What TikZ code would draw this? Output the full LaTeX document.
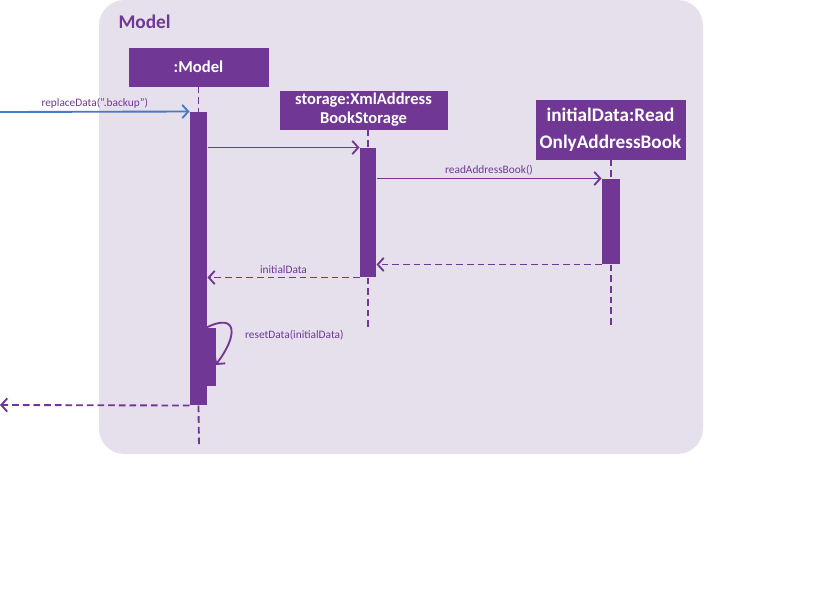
\documentclass[tikz,border=0pt]{standalone}
\usepackage{fontspec}
\setmainfont{Carlito}
\usepackage{tikz}
\usetikzlibrary{arrows.meta}
\usetikzlibrary{calc}
\definecolor{umlpurple}{RGB}{112,56,148}
\definecolor{framebg}{RGB}{230,224,237}
\definecolor{callblue}{RGB}{70,122,196}
\tikzset{every picture/.style={line width=0.75pt}}
\tikzset{
  objbox/.style={fill=umlpurple, draw=umlpurple, text=white, font=\bfseries, align=center, inner sep=0pt},
  actbar/.style={fill=umlpurple, draw=none, inner sep=0pt, minimum width=12.75pt},
  lifeline/.style={draw=umlpurple, line width=1.4pt, dash pattern=on 5pt off 3pt},
  msg/.style={draw=umlpurple, line width=1.4pt, -{Straight Barb[length=4.5pt,width=10pt,line width=1.4pt]}},
  ret/.style={msg, dash pattern=on 5pt off 3pt},
  msglabel/.style={font=\fontsize{8.5}{10}\selectfont, text=umlpurple, inner sep=2pt}
}

\begin{document}
\begin{tikzpicture}[x=0.75pt,y=0.75pt,yscale=-1,xscale=1]
\useasboundingbox (0,0) rectangle (826,594);

%Shape: Rounded Rectangle [id:frame]
\fill [framebg, rounded corners=19pt] (99,0) rectangle (703,454);
% Text Node
\node [anchor=west, inner sep=0pt, text=umlpurple, font=\fontsize{14.5}{17}\selectfont\bfseries] (title) at (118,22) {Model};

%Objects
\node [objbox, minimum width=104.25pt, minimum height=28.5pt, font=\fontsize{12.5}{14.5}\selectfont\bfseries] (model) at (198.5,67) {:Model};
\node [objbox, minimum width=125.25pt, minimum height=28.5pt, font=\fontsize{12.4}{14.2}\selectfont\bfseries] (storage) at (363.5,110) {storage:XmlAddress\\BookStorage};
\node [objbox, minimum width=111.75pt, minimum height=44.25pt, font=\fontsize{14.4}{20}\selectfont\bfseries] (initial) at (610.5,129.5) {initialData:Read\\OnlyAddressBook};

%Activation bars
\node [actbar, minimum height=219.75pt] (modelBar) at (198.5,258.5) {};
\node [actbar, minimum width=12pt, minimum height=96.75pt] (storageBar) at (368,212.5) {};
\node [actbar, minimum width=13.5pt, minimum height=63.75pt] (initialBar) at (611,221.5) {};
\node [actbar, minimum width=6.75pt, minimum height=43.5pt] (resetBar) at (211.5,357) {};

%Lifeline ends
\coordinate (modelEnd) at (199,447);
\coordinate (storageEnd) at (368,328);
\coordinate (initialEnd) at (611,328);
\coordinate (caller) at (0,112);
\coordinate (back) at (0,405);

%Lifelines
\draw [lifeline] (model.south -| modelBar.north) -- (modelBar.north);
\draw [lifeline] (modelBar.south) -- (modelEnd);
\draw [lifeline] (storage.south -| storageBar.north) -- (storageBar.north);
\draw [lifeline] (storageBar.south) -- (storageEnd);
\draw [lifeline] (initial.south -| initialBar.north) -- (initialBar.north);
\draw [lifeline] (initialBar.south) -- (initialEnd);

%Messages
\draw [msg, draw=callblue] (caller) -- (modelBar.north west) node [midway, above, msglabel] {replaceData(”.backup”)};
\draw [msg] (modelBar.east |- storageBar.north) -- (storageBar.north west);
\draw [msg] (storageBar.east |- initialBar.north) -- (initialBar.north west) node [midway, above, msglabel] {readAddressBook()};
\draw [ret] (initialBar.south west) -- (storageBar.east |- initialBar.south);
\draw [ret] (storageBar.south west) -- (modelBar.east |- storageBar.south) node [midway, above, msglabel] {initialData};
\draw [msg] (resetBar.north west) .. controls (238,312) and (238,336) .. ($(resetBar.east)+(-1,8)$);
\node [msglabel, anchor=west] (resetLabel) at (242,335) {resetData(initialData)};
\draw [ret] (modelBar.south west) -- (back);

\end{tikzpicture}
\end{document}
